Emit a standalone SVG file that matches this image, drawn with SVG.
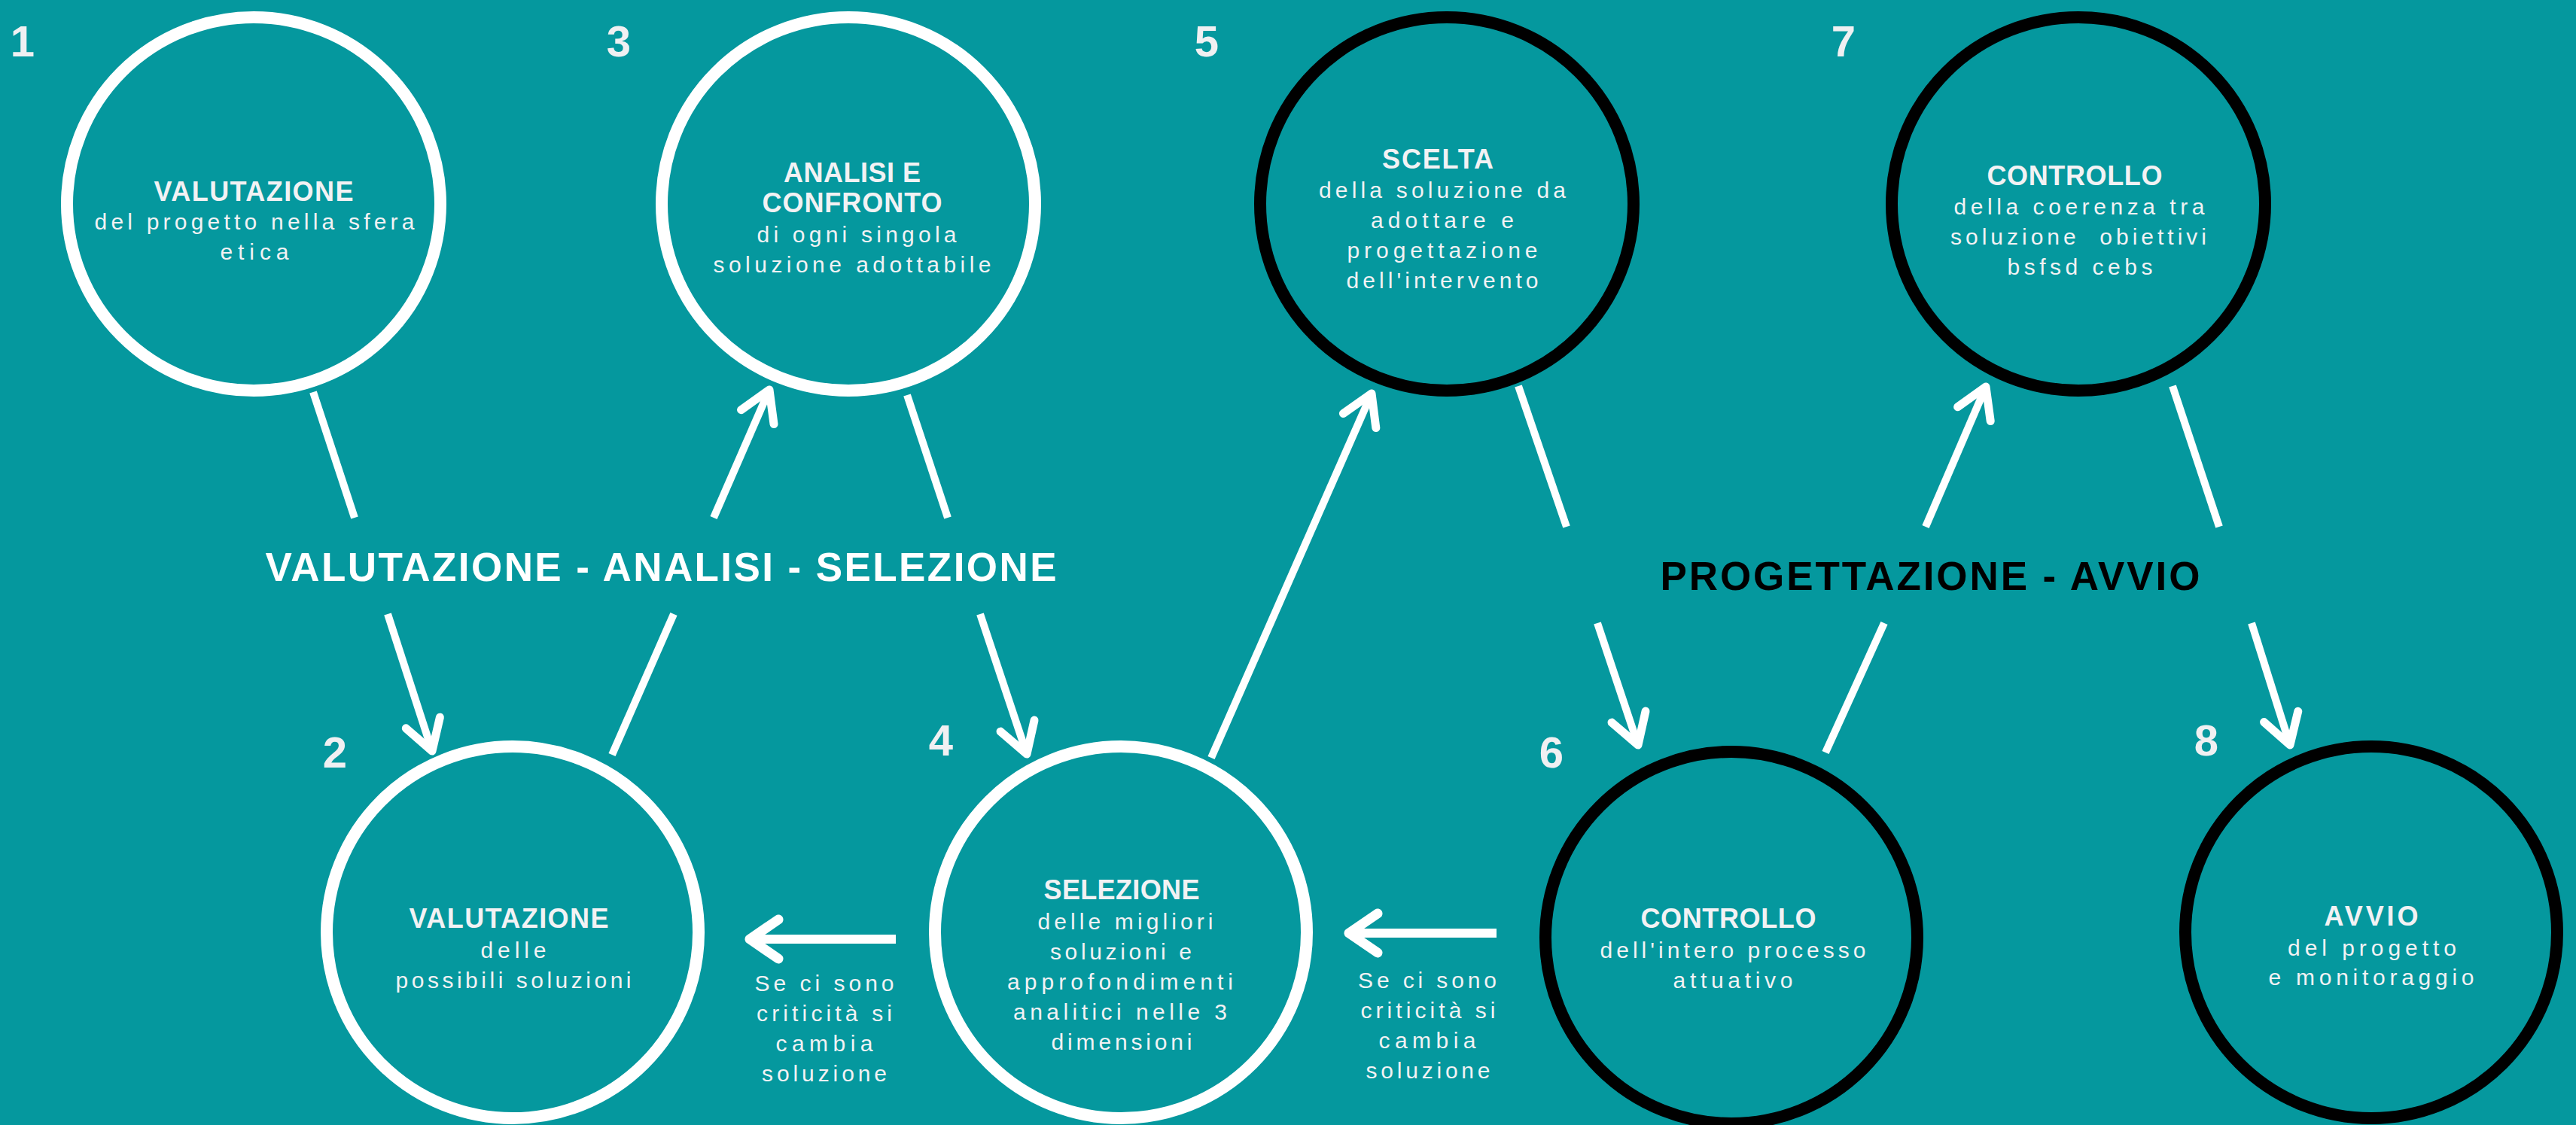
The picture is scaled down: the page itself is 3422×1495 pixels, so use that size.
<svg xmlns="http://www.w3.org/2000/svg" width="3422" height="1495" viewBox="0 0 3422 1495">
<defs>
<style>
.bg{fill:#05989e}
.cw{fill:none;stroke:#ffffff;stroke-width:16}
.cb{fill:none;stroke:#000000;stroke-width:16}
.num{font-family:"Liberation Sans",Arial,sans-serif;font-weight:700;font-size:58px;fill:#f0f0f2;text-anchor:middle}
.ttl{font-family:"Liberation Sans",Arial,sans-serif;font-weight:700;font-size:36px;fill:#f2f2f4;text-anchor:middle}
.bd{font-family:"Liberation Sans",Arial,sans-serif;font-size:30px;fill:#f2f2f4;text-anchor:middle}
.hd{font-family:"Liberation Sans",Arial,sans-serif;font-weight:700;font-size:53px;text-anchor:middle}
.ln{fill:none;stroke:#ffffff;stroke-width:10;stroke-linecap:butt}
.ar{marker-end:url(#ah)}
.hz{fill:none;stroke:#ffffff;stroke-width:12;marker-end:url(#ah2)}
</style>
<marker id="ah" markerUnits="userSpaceOnUse" viewBox="-50 -30 60 60" refX="0" refY="0" markerWidth="60" markerHeight="60" orient="auto">
<path d="M-39.4,-23.7 L0,0 L-39.4,23.7" fill="none" stroke="#ffffff" stroke-width="11" stroke-linecap="round" stroke-linejoin="round"/>
</marker>
<marker id="ah2" markerUnits="userSpaceOnUse" viewBox="-50 -35 60 70" refX="0" refY="0" markerWidth="60" markerHeight="70" orient="auto">
<path d="M-38,-26 L0,0 L-38,26" fill="none" stroke="#ffffff" stroke-width="13" stroke-linecap="round" stroke-linejoin="round"/>
</marker>
</defs>
<rect class="bg" x="0" y="0" width="3422" height="1495"/>

<g id="connectors">
<line class="ln" x1="416" y1="521" x2="471" y2="688"/>
<line class="ln ar" x1="515" y1="816" x2="574" y2="998"/>
<line class="ln" x1="813" y1="1003" x2="895" y2="816"/>
<line class="ln ar" x1="948" y1="688" x2="1022" y2="518"/>
<line class="ln" x1="1205" y1="525" x2="1259" y2="688"/>
<line class="ln ar" x1="1302" y1="816" x2="1364" y2="1002"/>
<line class="ln ar" x1="1609" y1="1007" x2="1822" y2="523"/>
<line class="ln" x1="2017" y1="513" x2="2081" y2="700"/>
<line class="ln ar" x1="2122" y1="828" x2="2176" y2="990"/>
<line class="ln" x1="2425" y1="1000" x2="2503" y2="828"/>
<line class="ln ar" x1="2558" y1="700" x2="2638" y2="514"/>
<line class="ln" x1="2886" y1="513" x2="2948" y2="700"/>
<line class="ln ar" x1="2991" y1="828" x2="3042" y2="990"/>
<line class="hz" x1="1190" y1="1248" x2="996" y2="1248"/>
<line class="hz" x1="1988" y1="1240" x2="1792" y2="1240"/>
</g>

<g id="headings">
<text class="hd" x="878" y="772" fill="#ffffff" textLength="1051" lengthAdjust="spacing">VALUTAZIONE - ANALISI - SELEZIONE</text>
<text class="hd" x="2564" y="784" fill="#000000" textLength="717" lengthAdjust="spacing">PROGETTAZIONE - AVVIO</text>
</g>

<g id="labels">
<text class="bd" x="1095" y="1317" textLength="185" lengthAdjust="spacing">Se ci sono</text>
<text class="bd" x="1095" y="1357" textLength="180" lengthAdjust="spacing">criticità si</text>
<text class="bd" x="1095" y="1397" textLength="129" lengthAdjust="spacing">cambia</text>
<text class="bd" x="1095" y="1437" textLength="166" lengthAdjust="spacing">soluzione</text>
<text class="bd" x="1896" y="1313" textLength="184" lengthAdjust="spacing">Se ci sono</text>
<text class="bd" x="1897" y="1353" textLength="179" lengthAdjust="spacing">criticità si</text>
<text class="bd" x="1896" y="1393" textLength="129" lengthAdjust="spacing">cambia</text>
<text class="bd" x="1897" y="1433" textLength="165" lengthAdjust="spacing">soluzione</text>
</g>

<g id="node1">
<circle class="cw" cx="337" cy="271" r="248"/>
<text class="num" x="30" y="75">1</text>
<text class="ttl" x="337" y="267" textLength="265" lengthAdjust="spacing">VALUTAZIONE</text>
<text class="bd" x="338" y="305" textLength="425" lengthAdjust="spacing">del progetto nella sfera</text>
<text class="bd" x="338" y="345" textLength="91" lengthAdjust="spacing">etica</text>
</g>

<g id="node2">
<circle class="cw" cx="681" cy="1239" r="247"/>
<text class="num" x="445" y="1020">2</text>
<text class="ttl" x="676" y="1233" textLength="265" lengthAdjust="spacing">VALUTAZIONE</text>
<text class="bd" x="682" y="1273" textLength="87" lengthAdjust="spacing">delle</text>
<text class="bd" x="682" y="1313" textLength="313" lengthAdjust="spacing">possibili soluzioni</text>
</g>

<g id="node3">
<circle class="cw" cx="1127" cy="271" r="248"/>
<text class="num" x="822" y="75">3</text>
<text class="ttl" x="1132" y="242" textLength="182" lengthAdjust="spacing">ANALISI E</text>
<text class="ttl" x="1132" y="282" textLength="239" lengthAdjust="spacing">CONFRONTO</text>
<text class="bd" x="1138" y="322" textLength="265" lengthAdjust="spacing">di ogni singola</text>
<text class="bd" x="1132" y="362" textLength="369" lengthAdjust="spacing">soluzione adottabile</text>
</g>

<g id="node4">
<circle class="cw" cx="1489" cy="1239" r="247"/>
<text class="num" x="1250" y="1004">4</text>
<text class="ttl" x="1490" y="1195" textLength="207" lengthAdjust="spacing">SELEZIONE</text>
<text class="bd" x="1495" y="1235" textLength="233" lengthAdjust="spacing">delle migliori</text>
<text class="bd" x="1489" y="1275" textLength="188" lengthAdjust="spacing">soluzioni e</text>
<text class="bd" x="1488" y="1315" textLength="300" lengthAdjust="spacing">approfondimenti</text>
<text class="bd" x="1488" y="1355" textLength="284" lengthAdjust="spacing">analitici nelle 3</text>
<text class="bd" x="1490" y="1395" textLength="187" lengthAdjust="spacing">dimensioni</text>
</g>

<g id="node5">
<circle class="cb" cx="1922" cy="271" r="248"/>
<text class="num" x="1603" y="75">5</text>
<text class="ttl" x="1910" y="224" textLength="148" lengthAdjust="spacing">SCELTA</text>
<text class="bd" x="1916" y="263" textLength="328" lengthAdjust="spacing">della soluzione da</text>
<text class="bd" x="1916" y="303" textLength="190" lengthAdjust="spacing">adottare e</text>
<text class="bd" x="1916" y="343" textLength="253" lengthAdjust="spacing">progettazione</text>
<text class="bd" x="1916" y="383" textLength="255" lengthAdjust="spacing">dell'intervento</text>
</g>

<g id="node6">
<circle class="cb" cx="2300" cy="1246" r="247"/>
<text class="num" x="2061" y="1020">6</text>
<text class="ttl" x="2296" y="1233" textLength="233" lengthAdjust="spacing">CONTROLLO</text>
<text class="bd" x="2302" y="1273" textLength="353" lengthAdjust="spacing">dell'intero processo</text>
<text class="bd" x="2302" y="1313" textLength="159" lengthAdjust="spacing">attuativo</text>
</g>

<g id="node7">
<circle class="cb" cx="2761" cy="271" r="248"/>
<text class="num" x="2449" y="75">7</text>
<text class="ttl" x="2756" y="246" textLength="233" lengthAdjust="spacing">CONTROLLO</text>
<text class="bd" x="2762" y="285" textLength="333" lengthAdjust="spacing">della coerenza tra</text>
<text class="bd" x="2761" y="325" textLength="340" lengthAdjust="spacing" xml:space="preserve">soluzione  obiettivi</text>
<text class="bd" x="2763" y="365" textLength="193" lengthAdjust="spacing">bsfsd cebs</text>
</g>

<g id="node8">
<circle class="cb" cx="3150" cy="1239" r="247"/>
<text class="num" x="2931" y="1004">8</text>
<text class="ttl" x="3150" y="1230" textLength="125" lengthAdjust="spacing">AVVIO</text>
<text class="bd" x="3151" y="1270" textLength="224" lengthAdjust="spacing">del progetto</text>
<text class="bd" x="3150" y="1309" textLength="273" lengthAdjust="spacing">e monitoraggio</text>
</g>
</svg>
